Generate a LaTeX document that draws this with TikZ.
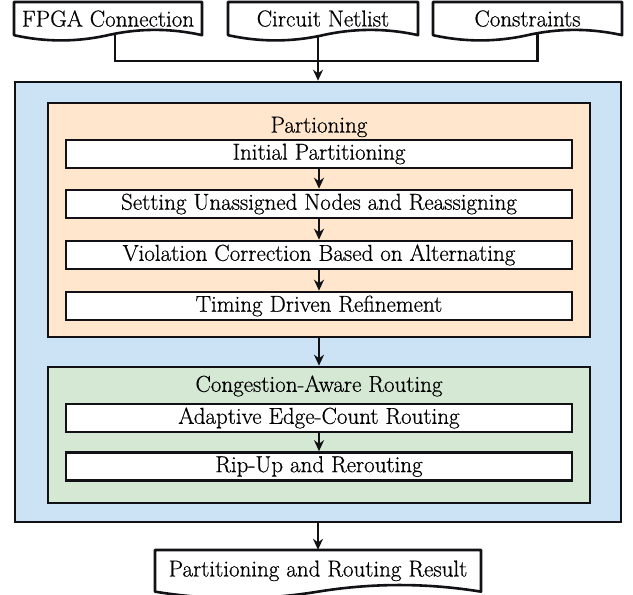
\documentclass[tikz,border=0pt]{standalone}
\usepackage{fontspec}
\setmainfont{Latin Modern Roman}[UprightFeatures={FakeBold=0.6}]
\usetikzlibrary{arrows.meta,calc}

\definecolor{ink}{RGB}{17,17,22}
\definecolor{outerblue}{RGB}{204,227,246}
\definecolor{partfill}{RGB}{255,230,204}
\definecolor{routefill}{RGB}{213,232,212}

\pgfdeclarelayer{back}
\pgfsetlayers{back,main}

\tikzset{
  frame/.style={draw=ink, line width=2.6pt, rectangle, inner sep=0pt},
  outerbox/.style={frame, fill=outerblue, minimum width=606pt, minimum height=440pt},
  stagebox/.style={frame, minimum width=542pt},
  stepbox/.style={frame, fill=white, minimum width=506pt, minimum height=28pt},
  titletext/.style={inner sep=0pt},
  doctext/.style={inner sep=0pt},
  docline/.style={draw=ink, line width=2.6pt, fill=white, line join=round},
  link/.style={draw=ink, line width=2.6pt},
  flowarrow/.style={link, -{Stealth[length=11pt,width=10pt]}},
}

% document shape with a wavy lower edge: name, left, top, width, height, text
\newcommand\docnode[6]{%
  \draw[docline] (#2,#3) -- ({#2+#4},#3) -- ({#2+#4},{#3+0.85*#5})
    .. controls ({#2+0.8333*#4},{#3+0.67*#5}) and ({#2+0.6667*#4},{#3+0.67*#5}) .. ({#2+0.5*#4},{#3+0.85*#5})
    .. controls ({#2+0.3333*#4},{#3+1.03*#5}) and ({#2+0.1667*#4},{#3+1.03*#5}) .. (#2,{#3+0.85*#5})
    -- cycle;
  \node[doctext, minimum width=#4pt, minimum height={0.85*#5pt}] (#1)
    at ({#2+0.5*#4},{#3+0.425*#5}) {#6};}

\begin{document}
\begin{tikzpicture}[x=1pt, y=-1pt, every node/.style={font=\fontsize{23}{27}\selectfont}]
\useasboundingbox (0,0) rectangle (633,595);

% inputs
\docnode{fpga}{14}{2}{188}{39}{FPGA Connection}
\docnode{net}{228}{2}{190}{39}{Circuit Netlist}
\docnode{cons}{433}{2}{189}{39}{Constraints}

% main flow container
\node[outerbox] (outer) at (318,302) {};

% partitioning stage
\node[stagebox, fill=partfill, minimum height=234pt] (part) at (319,220) {};
\node[titletext] (parttitle) at (319,127) {Partioning};
\node[stepbox] (init) at (319,154) {Initial Partitioning};
\node[stepbox] (unassigned) at (319,204) {Setting Unassigned Nodes and Reassigning};
\node[stepbox] (violation) at (319,255) {Violation Correction Based on Alternating};
\node[stepbox] (timing) at (319,306) {Timing Driven Refinement};

% routing stage
\node[stagebox, fill=routefill, minimum height=136pt] (route) at (319,435) {};
\node[titletext] (routetitle) at (319,386) {Congestion-Aware Routing};
\node[stepbox] (adaptive) at (319,418) {Adaptive Edge-Count Routing};
\node[stepbox] (ripup) at (319,466.5) {Rip-Up and Rerouting};

% output
\docnode{result}{155}{550}{326}{49}{Partitioning and Routing Result}

% input connectors
\coordinate (hub) at (318,61);
\begin{pgfonlayer}{back}
  \draw[link] ([xshift=7pt]fpga.center) |- (hub) -| ([xshift=10pt]cons.center);
  \draw[link] (net.center -| hub) -- (hub);
\end{pgfonlayer}
\draw[flowarrow] (hub) -- (outer.north);

% step connectors
\draw[flowarrow] (init) -- (unassigned);
\draw[flowarrow] (unassigned) -- (violation);
\draw[flowarrow] (violation) -- (timing);
\draw[flowarrow] (part.south) -- (route.north);
\draw[flowarrow] (adaptive) -- (ripup);
\draw[flowarrow] (outer.south) -- (result.north);
\end{tikzpicture}
\end{document}
